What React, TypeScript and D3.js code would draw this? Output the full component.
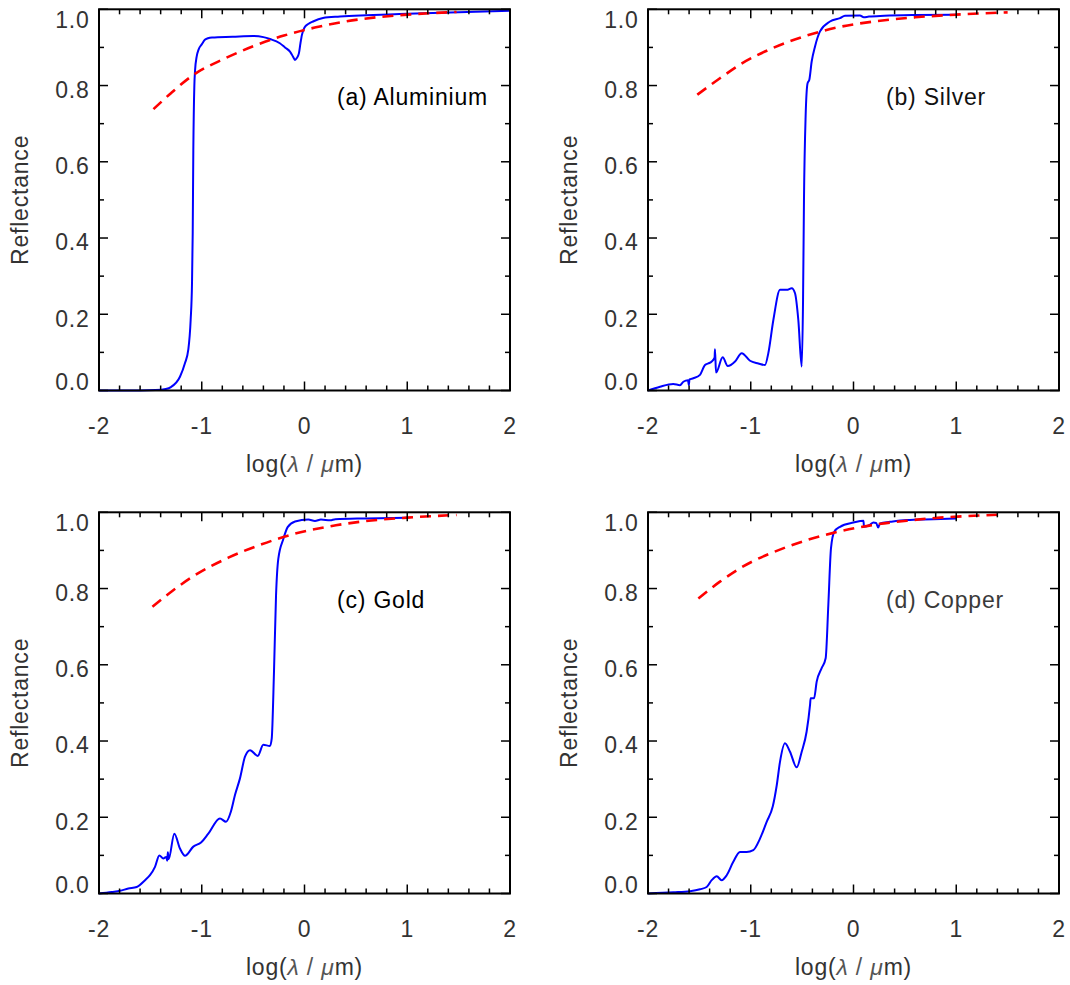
import React from "react";
import * as d3 from "d3";

// ---------- data (log10 wavelength in µm, reflectance) ----------
const xTickValues = [-2, -1, 0, 1, 2];
const xTickLabels = ["-2", "-1", "0", "1", "2"];
const yTickValues = [0, 0.2, 0.4, 0.6, 0.8, 1.0];
const yTickLabels = ["0.0", "0.2", "0.4", "0.6", "0.8", "1.0"];
const xMinorTicks = [-1.8, -1.6, -1.4, -1.2, -0.8, -0.6, -0.4, -0.2, 0.2, 0.4, 0.6, 0.8, 1.2, 1.4, 1.6, 1.8];
const yMinorTicks = [0.1, 0.3, 0.5, 0.7, 0.9];

const aluminiumMeasured: [number, number][] = [
  [-2.0, 0.0], [-1.6, 0.0], [-1.45, 0.001], [-1.35, 0.004], [-1.3, 0.009], [-1.212, 0.036],
  [-1.163, 0.072], [-1.131, 0.107], [-1.108, 0.185], [-1.095, 0.28], [-1.088, 0.412],
  [-1.082, 0.63], [-1.072, 0.8], [-1.065, 0.84], [-1.05, 0.875], [-1.03, 0.895], [-1.0, 0.908],
  [-0.97, 0.92], [-0.94, 0.924], [-0.9, 0.926], [-0.7, 0.928], [-0.5, 0.93], [-0.4, 0.927],
  [-0.336, 0.922], [-0.24, 0.911], [-0.19, 0.9], [-0.141, 0.889], [-0.11, 0.875], [-0.093, 0.867],
  [-0.075, 0.872], [-0.054, 0.885], [-0.04, 0.91], [-0.025, 0.933], [0.0, 0.952], [0.04, 0.962],
  [0.083, 0.968], [0.18, 0.977], [0.345, 0.981], [1.0, 0.988], [1.5, 0.992], [2.0, 0.996],
];
const aluminiumModel: [number, number][] = [
  [-1.47, 0.738], [-1.3, 0.78], [-1.07, 0.83], [-0.8, 0.868], [-0.5, 0.903], [-0.2, 0.931],
  [0.1, 0.952], [0.4, 0.968], [0.7, 0.979], [1.0, 0.986], [1.48, 0.993],
];

const silverMeasured: [number, number][] = [
  [-2.0, 0.0], [-1.883, 0.01], [-1.754, 0.017], [-1.689, 0.014], [-1.656, 0.023], [-1.61, 0.027],
  [-1.603, 0.014], [-1.596, 0.029], [-1.559, 0.032], [-1.494, 0.041], [-1.445, 0.067], [-1.413, 0.071],
  [-1.38, 0.076], [-1.352, 0.086], [-1.348, 0.108], [-1.338, 0.047], [-1.273, 0.087], [-1.224, 0.064],
  [-1.153, 0.076], [-1.088, 0.098], [-1.007, 0.078], [-0.926, 0.071], [-0.861, 0.067], [-0.829, 0.098],
  [-0.78, 0.185], [-0.715, 0.264], [-0.65, 0.264], [-0.601, 0.268], [-0.569, 0.255], [-0.537, 0.185],
  [-0.504, 0.063], [-0.491, 0.238], [-0.482, 0.5], [-0.466, 0.719], [-0.447, 0.806], [-0.43, 0.815],
  [-0.407, 0.863], [-0.375, 0.902], [-0.326, 0.942], [-0.229, 0.968], [-0.131, 0.977], [-0.083, 0.983],
  [0.063, 0.984], [0.1, 0.979], [0.15, 0.981], [0.3, 0.983], [0.6, 0.985], [1.0, 0.986],
];
const silverModel: [number, number][] = [
  [-1.52, 0.776], [-1.3, 0.819], [-1.105, 0.855], [-0.78, 0.899], [-0.456, 0.931], [-0.131, 0.954],
  [0.2, 0.968], [0.6, 0.979], [1.0, 0.986], [1.5, 0.992],
];

const goldMeasured: [number, number][] = [
  [-2.0, 0.0], [-1.876, 0.004], [-1.796, 0.007], [-1.715, 0.013], [-1.633, 0.017], [-1.552, 0.035],
  [-1.504, 0.048], [-1.455, 0.07], [-1.413, 0.1], [-1.374, 0.092], [-1.345, 0.096], [-1.336, 0.086],
  [-1.33, 0.108], [-1.322, 0.09], [-1.267, 0.157], [-1.212, 0.118], [-1.163, 0.099], [-1.082, 0.123],
  [-1.007, 0.134], [-0.936, 0.157], [-0.823, 0.197], [-0.764, 0.188], [-0.716, 0.215], [-0.676, 0.259],
  [-0.628, 0.302], [-0.579, 0.359], [-0.53, 0.376], [-0.455, 0.361], [-0.401, 0.39], [-0.336, 0.387],
  [-0.319, 0.406], [-0.297, 0.581], [-0.277, 0.782], [-0.255, 0.878], [-0.206, 0.93], [-0.164, 0.961],
  [-0.092, 0.976], [0.037, 0.981], [0.102, 0.977], [0.16, 0.981], [0.25, 0.979], [0.3, 0.982],
  [0.6, 0.984], [1.0, 0.986],
];
const goldModel: [number, number][] = [
  [-1.48, 0.752], [-1.29, 0.793], [-1.066, 0.835], [-0.741, 0.881], [-0.417, 0.916], [-0.092, 0.944],
  [0.2, 0.961], [0.6, 0.977], [1.0, 0.986], [1.48, 0.993],
];

const copperMeasured: [number, number][] = [
  [-2.0, 0.0], [-1.754, 0.003], [-1.591, 0.006], [-1.494, 0.011], [-1.429, 0.017], [-1.38, 0.035],
  [-1.331, 0.045], [-1.283, 0.035], [-1.234, 0.048], [-1.17, 0.083], [-1.105, 0.109], [-1.04, 0.109],
  [-0.975, 0.114], [-0.91, 0.144], [-0.845, 0.188], [-0.786, 0.228], [-0.747, 0.284], [-0.715, 0.346],
  [-0.667, 0.394], [-0.618, 0.372], [-0.553, 0.331], [-0.504, 0.372], [-0.456, 0.425], [-0.423, 0.495],
  [-0.417, 0.512], [-0.384, 0.512], [-0.358, 0.556], [-0.31, 0.591], [-0.271, 0.617], [-0.245, 0.757],
  [-0.219, 0.906], [-0.187, 0.949], [-0.131, 0.962], [0.0, 0.973], [0.097, 0.978], [0.102, 0.962],
  [0.16, 0.967], [0.193, 0.973], [0.22, 0.972], [0.24, 0.96], [0.258, 0.971], [0.355, 0.975],
  [0.518, 0.98], [0.778, 0.982], [1.0, 0.984],
];
const copperModel: [number, number][] = [
  [-1.51, 0.774], [-1.3, 0.818], [-1.105, 0.853], [-0.65, 0.909], [-0.196, 0.946], [0.193, 0.967],
  [0.518, 0.978], [0.843, 0.986], [1.1, 0.99], [1.46, 0.994],
];

const panelLabels = ["(a) Aluminium", "(b) Silver", "(c) Gold", "(d) Copper"];

// ---------- layout ----------
const PW = 411;
const PH = 381.2;
const FONT = "'Liberation Sans', Arial, Helvetica, sans-serif";

const panels = [
  { left: 99, top: 9.3, label: panelLabels[0], labelColor: "#000", measured: aluminiumMeasured, model: aluminiumModel },
  { left: 648, top: 9.3, label: panelLabels[1], labelColor: "#111", measured: silverMeasured, model: silverModel },
  { left: 99, top: 512.3, label: panelLabels[2], labelColor: "#000", measured: goldMeasured, model: goldModel },
  { left: 648, top: 512.3, label: panelLabels[3], labelColor: "#3a3a3a", measured: copperMeasured, model: copperModel },
];

function Panel({ p }: { p: (typeof panels)[number] }) {
  const x = d3.scaleLinear().domain([-2, 2]).range([0, PW]);
  const y = d3.scaleLinear().domain([0, 1]).range([PH, 0]);
  const line = d3
    .line<[number, number]>()
    .x((d) => x(d[0]))
    .y((d) => y(d[1]))
    .curve(d3.curveMonotoneX);

  const major = 9;
  const minor = 5;
  const tickStyle = { stroke: "#000", strokeWidth: 1.5 };
  const textStyle: React.CSSProperties = { fontFamily: FONT, fontSize: 23, letterSpacing: 0.8 };

  return (
    <g transform={`translate(${p.left},${p.top})`}>
      <path d={line(p.measured) || ""} fill="none" stroke="#0000ff" strokeWidth={2} />
      <path d={line(p.model) || ""} fill="none" stroke="#ff0000" strokeWidth={2.6} strokeDasharray="11,7" />
      <rect x={0} y={0} width={PW} height={PH} fill="none" stroke="#000" strokeWidth={2} />
      {xTickValues.map((v) => (
        <g key={`xm${v}`}>
          <line x1={x(v)} x2={x(v)} y1={PH} y2={PH - major} {...tickStyle} />
          <line x1={x(v)} x2={x(v)} y1={0} y2={major} {...tickStyle} />
        </g>
      ))}
      {xMinorTicks.map((v) => (
        <g key={`xn${v}`}>
          <line x1={x(v)} x2={x(v)} y1={PH} y2={PH - minor} {...tickStyle} />
          <line x1={x(v)} x2={x(v)} y1={0} y2={minor} {...tickStyle} />
        </g>
      ))}
      {yTickValues.map((v) => (
        <g key={`ym${v}`}>
          <line x1={0} x2={major} y1={y(v)} y2={y(v)} {...tickStyle} />
          <line x1={PW} x2={PW - major} y1={y(v)} y2={y(v)} {...tickStyle} />
        </g>
      ))}
      {yMinorTicks.map((v) => (
        <g key={`yn${v}`}>
          <line x1={0} x2={minor} y1={y(v)} y2={y(v)} {...tickStyle} />
          <line x1={PW} x2={PW - minor} y1={y(v)} y2={y(v)} {...tickStyle} />
        </g>
      ))}
      {xTickValues.map((v, i) => (
        <text key={`xl${v}`} x={x(v)} y={PH + 44} textAnchor="middle" fill="#333" style={textStyle}>
          {xTickLabels[i]}
        </text>
      ))}
      {yTickValues.map((v, i) => (
        <text
          key={`yl${v}`}
          x={-9.5}
          y={y(v) + (v === 0 ? 0 : v === 1 ? 19 : 12.3)}
          textAnchor="end"
          fill="#333"
          style={textStyle}
        >
          {yTickLabels[i]}
        </text>
      ))}
      <text x={PW / 2} y={PH + 82} textAnchor="middle" fill="#333" style={textStyle}>
        log(
        <tspan fontStyle="italic" fill="#555">λ</tspan>
        <tspan fill="#555"> / </tspan>
        <tspan fontStyle="italic" fill="#555">μ</tspan>
        m)
      </text>
      <text
        transform={`translate(-71,${PH / 2}) rotate(-90)`}
        textAnchor="middle"
        fill="#333"
        style={textStyle}
      >
        Reflectance
      </text>
      <text x={238} y={96} fill={p.labelColor} style={textStyle}>
        {p.label}
      </text>
    </g>
  );
}

export default function App() {
  return (
    <svg
      width={1070}
      height={985}
      style={{ position: "absolute", left: 0, top: 0, background: "#fff" }}
    >
      <rect x={0} y={0} width={1070} height={985} fill="#fff" />
      {panels.map((p) => (
        <Panel key={p.label} p={p} />
      ))}
    </svg>
  );
}
